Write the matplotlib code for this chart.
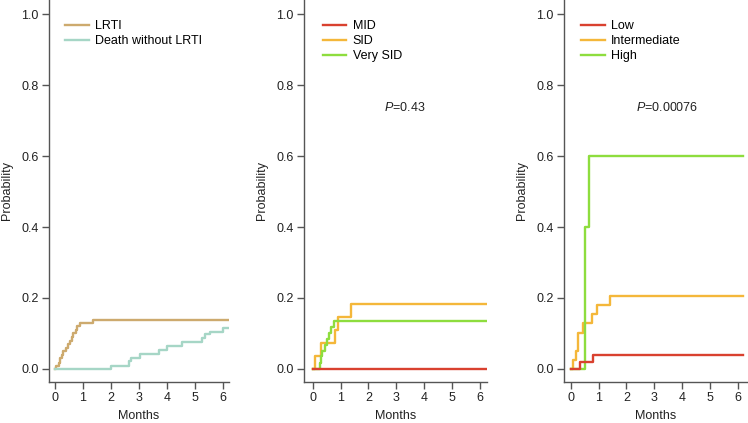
import numpy as np
import matplotlib
matplotlib.use('Agg')
import matplotlib.pyplot as plt

plt.rcParams['font.family'] = ['Liberation Sans', 'DejaVu Sans']
plt.rcParams['mathtext.fontset'] = 'custom'
plt.rcParams['mathtext.it'] = 'Liberation Sans:italic'
plt.rcParams['mathtext.rm'] = 'Liberation Sans'

# panel 1: cumulative incidence, LRTI vs death without LRTI
lrti_t = [0.0, 0.05, 0.15, 0.2, 0.25, 0.3, 0.4, 0.45, 0.55, 0.6, 0.65, 0.75, 0.8, 0.9, 1.37, 6.2]
lrti_p = [0.0, 0.008, 0.017, 0.03, 0.04, 0.05, 0.06, 0.07, 0.08, 0.09, 0.10, 0.11, 0.12, 0.129, 0.138, 0.138]
death_t = [0.0, 1.99, 2.63, 2.71, 3.04, 3.7, 4.01, 4.55, 5.25, 5.35, 5.54, 6.01, 6.2]
death_p = [0.0, 0.009, 0.021, 0.032, 0.041, 0.052, 0.064, 0.075, 0.086, 0.097, 0.105, 0.116, 0.116]

# panel 2: MID / SID / Very SID
mid_t = [0.0, 6.2]
mid_p = [0.0, 0.0]
sid_t = [0.0, 0.08, 0.3, 0.8, 0.91, 1.39, 6.2]
sid_p = [0.0, 0.037, 0.074, 0.11, 0.147, 0.184, 0.184]
vsid_t = [0.0, 0.25, 0.3, 0.35, 0.45, 0.5, 0.6, 0.65, 0.75, 6.2]
vsid_p = [0.0, 0.017, 0.035, 0.05, 0.067, 0.085, 0.10, 0.118, 0.135, 0.135]

# panel 3: Low / Intermediate / High
low_t = [0.0, 0.33, 0.81, 6.2]
low_p = [0.0, 0.019, 0.039, 0.039]
inter_t = [0.0, 0.08, 0.2, 0.27, 0.45, 0.78, 0.95, 1.4, 6.2]
inter_p = [0.0, 0.025, 0.05, 0.10, 0.128, 0.155, 0.18, 0.205, 0.205]
high_t = [0.0, 0.5, 0.53, 0.66, 6.2]
high_p = [0.0, 0.2, 0.4, 0.6, 0.6]

c_lrti = '#CDAA6E'
c_death = '#A6D6C6'
c_red = '#D9412F'
c_orange = '#F4B73A'
c_green = '#8EDD3E'

fig = plt.figure(figsize=(7.48, 4.23), dpi=100)
H = 423.0
W = 748.0
bottom = 1 - 382 / H
height = 382 / H
ax1 = fig.add_axes([49 / W, bottom, 180 / W, height])
ax2 = fig.add_axes([304 / W, bottom, 183 / W, height])
ax3 = fig.add_axes([564 / W, bottom, 183 / W, height])

def style(ax, xlim):
    for s in ['top', 'right']:
        ax.spines[s].set_visible(False)
    for s in ['left', 'bottom']:
        ax.spines[s].set_color('#555555')
        ax.spines[s].set_linewidth(1.0)
    ax.set_xlim(xlim)
    ax.set_ylim(-0.037, 1.04)
    ax.set_xticks(range(0, 7))
    ax.set_yticks([0.0, 0.2, 0.4, 0.6, 0.8, 1.0])
    ax.set_yticklabels(['0.0', '0.2', '0.4', '0.6', '0.8', '1.0'])
    ax.tick_params(direction='out', length=5, width=1.0, color='#555555',
                   labelsize=9, labelcolor='#222222', pad=2.5)
    ax.set_xlabel('Months', fontsize=9, color='#222222', labelpad=4)
    ax.set_ylabel('Probability', fontsize=9, color='#222222', labelpad=6)

def legend(ax, x):
    ax.legend(loc='upper left', bbox_to_anchor=(x, 0.947), frameon=False,
              fontsize=9, handlelength=1.9, handletextpad=0.5,
              labelspacing=0.25, borderpad=0, borderaxespad=0)

lw = 1.7
ax1.step(lrti_t, lrti_p, where='post', color=c_lrti, lw=lw, label='LRTI')
ax1.step(death_t, death_p, where='post', color=c_death, lw=lw, label='Death without LRTI')
style(ax1, (-0.21, 6.21))
legend(ax1, 0.089)

ax2.step(mid_t, mid_p, where='post', color=c_red, lw=lw, label='MID', zorder=3)
ax2.step(sid_t, sid_p, where='post', color=c_orange, lw=lw, label='SID', zorder=2)
ax2.step(vsid_t, vsid_p, where='post', color=c_green, lw=lw, label='Very SID', zorder=2)
style(ax2, (-0.31, 6.25))
legend(ax2, 0.102)
ax2.text(3.31, 0.738, '$P$=0.43', ha='center', va='center', fontsize=9, color='#222222')

ax3.step(low_t, low_p, where='post', color=c_red, lw=lw, label='Low', zorder=3)
ax3.step(inter_t, inter_p, where='post', color=c_orange, lw=lw, label='Intermediate', zorder=2)
ax3.step(high_t, high_p, where='post', color=c_green, lw=lw, label='High', zorder=2)
style(ax3, (-0.24, 6.33))
legend(ax3, 0.092)
ax3.text(3.47, 0.738, '$P$=0.00076', ha='center', va='center', fontsize=9, color='#222222')

fig.savefig('out.png', dpi=100)
